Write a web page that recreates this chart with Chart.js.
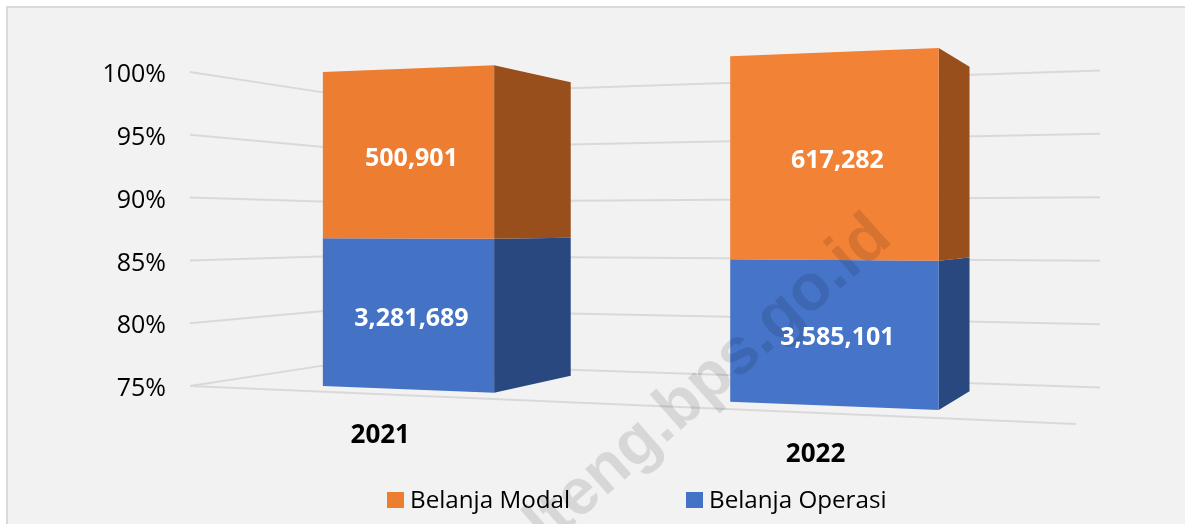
<!DOCTYPE html>
<html>
<head>
<meta charset="utf-8">
<title>Belanja Modal dan Belanja Operasi</title>
<style>
  html, body { margin: 0; padding: 0; background: #fff; overflow: hidden; }
  #panel { position: absolute; left: 6px; top: 6px; width: 1200px; height: 540px; background: #f2f2f2; border-left: 2px solid #d9d9d9; border-top: 2px solid #d9d9d9; }
  #chart { position: absolute; left: 0; top: 0; }
</style>
</head>
<body>
<div id="panel"></div>
<canvas id="chart" width="1185" height="524"></canvas>
<script src="https://cdn.jsdelivr.net/npm/chart.js@4"></script>
<script>
var years = ['2021', '2022'];
var belanjaOperasi = [3281689, 3585101];
var belanjaModal = [500901, 617282];
var axisTicks = [75, 80, 85, 90, 95, 100];
var watermark = 'sulteng.bps.go.id';

(function render(doc) {
  var font = '"Open Sans", "Noto Sans", sans-serif';
  var gridColor = '#d9d9d9';

  // perspective of the 3D column chart, fitted on the reference
  var areaLeft = 220;
  var worldOrigin = areaLeft + 103;
  var frontX = 323;
  var tilt = 0.000248;
  var vanishX = 1238;
  var depth = 0.103;

  function share(part, other) {
    return part.map(function (value, i) {
      return value / (value + other[i]) * 100;
    });
  }

  function formatValue(value) {
    return value.toLocaleString('en-US');
  }

  // flat chart pixel -> point on the tilted front plane
  function project(x, y, midY) {
    var s = 1 / (1 - tilt * (x - worldOrigin));
    return { x: frontX + (s - 1) / tilt, y: midY + (y - midY) * s };
  }

  function pushBack(p, midY, amount) {
    return { x: p.x + (vanishX - p.x) * amount, y: p.y + (midY - p.y) * amount };
  }

  function fillPolygon(ctx, points, color) {
    ctx.beginPath();
    points.forEach(function (p, i) {
      if (i === 0) ctx.moveTo(p.x, p.y);
      else ctx.lineTo(p.x, p.y);
    });
    ctx.closePath();
    ctx.fillStyle = color;
    ctx.fill();
  }

  function wallLine(ctx, y, midY, x1, s1, x2, s2) {
    ctx.beginPath();
    ctx.moveTo(x1, midY + (y - midY) * s1);
    ctx.lineTo(x2, midY + (y - midY) * s2);
    ctx.strokeStyle = gridColor;
    ctx.lineWidth = 2;
    ctx.stroke();
  }

  function drawWalls(chart, midY) {
    var ctx = chart.ctx;
    var scale = chart.scales.y;
    scale.ticks.forEach(function (tick) {
      var y = scale.getPixelForValue(tick.value);
      wallLine(ctx, y, midY, 190, 1, 346, 0.848);
      wallLine(ctx, y, midY, 346, 0.848, 1100, 1.01);
    });
    wallLine(ctx, chart.chartArea.bottom, midY, 190, 1, 1076, 1.242);
  }

  function barFaces(bar, bottom, midY) {
    var left = bar.x - bar.width / 2;
    var right = bar.x + bar.width / 2;
    var base = Math.min(bar.base, bottom);
    return {
      topLeft: project(left, bar.y, midY),
      topRight: project(right, bar.y, midY),
      bottomLeft: project(left, base, midY),
      bottomRight: project(right, base, midY)
    };
  }

  function drawBars(chart, midY) {
    var ctx = chart.ctx;
    chart.data.datasets.forEach(function (dataset, d) {
      chart.getDatasetMeta(d).data.forEach(function (bar, i) {
        var f = barFaces(bar, chart.chartArea.bottom, midY);
        fillPolygon(ctx, [f.topRight, pushBack(f.topRight, midY, depth), pushBack(f.bottomRight, midY, depth), f.bottomRight], dataset.sideColor);
        fillPolygon(ctx, [f.topLeft, f.topRight, f.bottomRight, f.bottomLeft], dataset.backgroundColor[i]);
      });
    });
  }

  function drawWatermark(ctx) {
    ctx.save();
    ctx.translate(882, 228);
    ctx.rotate(-41.5 * Math.PI / 180);
    ctx.font = 'bold 65px "Liberation Sans", sans-serif';
    ctx.fillStyle = 'rgba(0, 0, 0, 0.11)';
    ctx.textAlign = 'right';
    ctx.textBaseline = 'middle';
    ctx.fillText(watermark, 0, 0);
    ctx.restore();
  }

  function drawValueLabels(chart, midY) {
    var ctx = chart.ctx;
    ctx.font = 'bold 25px ' + font;
    ctx.fillStyle = '#fff';
    ctx.textAlign = 'center';
    ctx.textBaseline = 'middle';
    chart.data.datasets.forEach(function (dataset, d) {
      chart.getDatasetMeta(d).data.forEach(function (bar, i) {
        var f = barFaces(bar, chart.chartArea.bottom, midY);
        var x = (f.topLeft.x + f.topRight.x) / 2 + 3;
        var y = (f.topLeft.y + f.topRight.y + f.bottomLeft.y + f.bottomRight.y) / 4 + 5;
        ctx.fillText(formatValue(dataset.rawValues[i]), x, y);
      });
    });
  }

  function drawYearLabels(chart, midY) {
    var ctx = chart.ctx;
    var meta = chart.getDatasetMeta(0);
    var bottom = chart.chartArea.bottom;
    ctx.font = 'bold 26px ' + font;
    ctx.fillStyle = '#000';
    ctx.textAlign = 'center';
    ctx.textBaseline = 'middle';
    chart.scales.x.getLabels().forEach(function (label, i) {
      var p = pushBack(project(meta.data[i].x, bottom, midY), midY, -0.0234);
      // the labels sit under the front edge of the floor
      var edge = 386 + (p.x - 190) * (38 / 886);
      ctx.fillText(label, p.x - 7, edge + 41);
    });
  }

  function drawLegend(chart) {
    var ctx = chart.ctx;
    var x = 387;
    var items = chart.data.datasets.slice().reverse();
    ctx.font = '24.2px ' + font;
    ctx.textAlign = 'left';
    ctx.textBaseline = 'middle';
    items.forEach(function (dataset) {
      ctx.fillStyle = dataset.backgroundColor[0];
      ctx.fillRect(x, 492, 17, 16);
      ctx.fillStyle = '#000';
      ctx.fillText(dataset.label, x + 23, 501);
      x = 686;
    });
  }

  var perspectivePlugin = {
    id: 'perspective',
    beforeDatasetsDraw: function (chart) {
      var midY = chart.scales.y.getPixelForValue(87.5);
      drawWalls(chart, midY);
      drawBars(chart, midY);
      drawWatermark(chart.ctx);
      drawValueLabels(chart, midY);
      drawYearLabels(chart, midY);
      drawLegend(chart);
      return false;
    }
  };

  new Chart(doc.querySelector('#chart').getContext('2d'), {
    type: 'bar',
    data: {
      labels: years,
      datasets: [
        {
          label: 'Belanja Operasi',
          data: share(belanjaOperasi, belanjaModal),
          rawValues: belanjaOperasi,
          backgroundColor: ['#4472c4', '#4674c8'],
          sideColor: '#2a4880'
        },
        {
          label: 'Belanja Modal',
          data: share(belanjaModal, belanjaOperasi),
          rawValues: belanjaModal,
          backgroundColor: ['#ed7d31', '#f28236'],
          sideColor: '#984f1c'
        }
      ]
    },
    options: {
      responsive: false,
      animation: false,
      events: [],
      barPercentage: 0.444,
      categoryPercentage: 1,
      layout: { padding: { top: 72, right: 225, bottom: 138, left: 0 } },
      plugins: { legend: { display: false }, tooltip: { enabled: false } },
      scales: {
        x: { stacked: true, display: false },
        y: {
          stacked: true,
          min: axisTicks[0],
          max: axisTicks[axisTicks.length - 1],
          afterFit: function (scale) { scale.width = areaLeft; },
          afterBuildTicks: function (scale) {
            scale.ticks = axisTicks.map(function (value) { return { value: value }; });
          },
          grid: { display: false },
          border: { display: false },
          ticks: {
            padding: 46,
            labelOffset: 3,
            color: '#000',
            font: { family: font, size: 25 },
            callback: function (value) { return value + '%'; }
          }
        }
      }
    },
    plugins: [perspectivePlugin]
  });
})(document);
</script>
</body>
</html>
